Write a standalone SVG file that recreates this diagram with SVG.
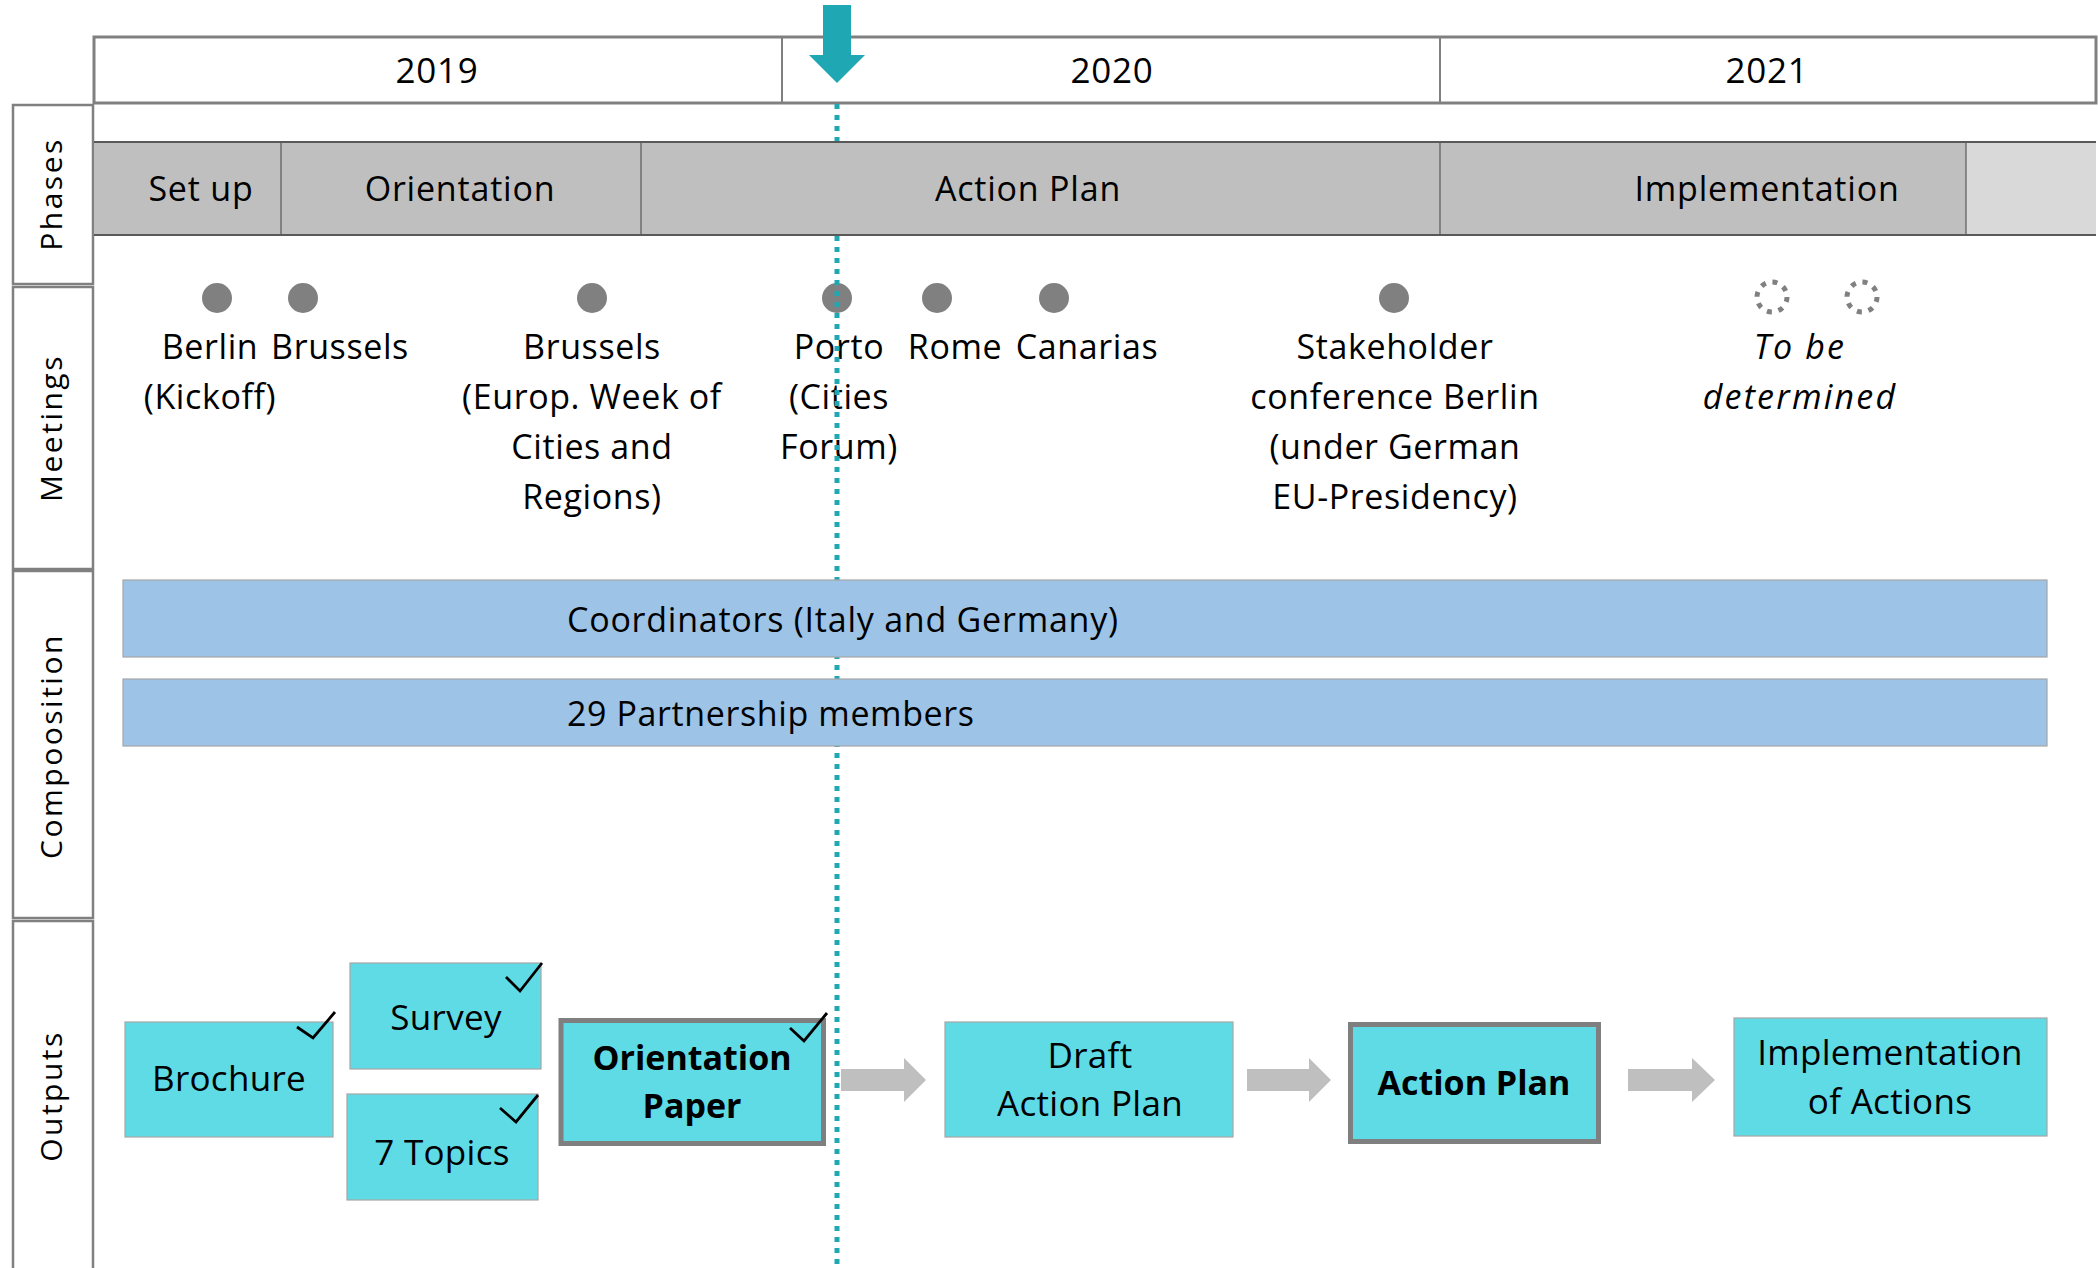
<svg xmlns="http://www.w3.org/2000/svg" width="2098" height="1268" viewBox="0 0 2098 1268">
<defs>
<style>
text{font-family:"Open Sans","Noto Sans","DejaVu Sans",sans-serif;fill:#000;}
.yr{font-size:35px;text-anchor:middle;letter-spacing:0.8px;}
.ph{font-size:34px;text-anchor:middle;letter-spacing:0.8px;}
.mt{font-size:34px;text-anchor:middle;letter-spacing:0.6px;}
.it{font-style:italic;letter-spacing:2.2px;}
.lbl{font-size:30px;text-anchor:middle;letter-spacing:2.5px;}
.cmp{font-size:34px;}
.out{font-size:35px;text-anchor:middle;letter-spacing:0.3px;}
.outb{font-size:34px;text-anchor:middle;font-weight:bold;}
.lbox{fill:#fff;stroke:#808080;stroke-width:2.5;}
.dot{fill:#808080;}
.tbd{fill:none;stroke:#808080;stroke-width:5;stroke-dasharray:5 6.78;}
.bar{fill:#9dc3e6;stroke:#a6a6a6;stroke-width:1.2;}
.cy{fill:#5fdbe5;stroke:#a6a6a6;stroke-width:1.2;}
.cyk{fill:#5fdbe5;stroke:#7f7f7f;stroke-width:5;}
.chk{fill:none;stroke:#000;stroke-width:2.8;stroke-linejoin:miter;}
.garr{fill:#bfbfbf;}
.div{stroke:#595959;stroke-width:1.2;}
</style>
</defs>

<!-- Year header -->
<g id="years">
<rect x="94" y="37" width="2002" height="66" fill="#fff" stroke="#808080" stroke-width="3"/>
<line x1="782" y1="37" x2="782" y2="103" stroke="#808080" stroke-width="2"/>
<line x1="1440" y1="37" x2="1440" y2="103" stroke="#808080" stroke-width="2"/>
<text class="yr" x="437" y="83">2019</text>
<text class="yr" x="1112" y="83">2020</text>
<text class="yr" x="1767" y="83">2021</text>
</g>

<!-- Row labels -->
<g id="row-labels">
<rect class="lbox" x="13" y="105" width="80" height="179"/>
<rect class="lbox" x="13" y="287" width="80" height="282"/>
<rect class="lbox" x="13" y="571" width="80" height="347"/>
<rect class="lbox" x="13" y="921" width="80" height="352"/>
<text class="lbl" transform="translate(62,194) rotate(-90)">Phases</text>
<text class="lbl" transform="translate(62,428) rotate(-90)" letter-spacing="3.2">Meetings</text>
<text class="lbl" transform="translate(62,746) rotate(-90)">Compoosition</text>
<text class="lbl" transform="translate(62,1096) rotate(-90)">Outputs</text>
</g>

<!-- Meetings -->
<g id="meetings">
<circle class="dot" cx="217" cy="298" r="15"/>
<circle class="dot" cx="303" cy="298" r="15"/>
<circle class="dot" cx="592" cy="298" r="15"/>
<circle class="dot" cx="837" cy="298" r="15"/>
<circle class="dot" cx="937" cy="298" r="15"/>
<circle class="dot" cx="1054" cy="298" r="15"/>
<circle class="dot" cx="1394" cy="298" r="15"/>
<circle class="tbd" cx="1772" cy="297" r="15"/>
<circle class="tbd" cx="1862" cy="297" r="15"/>
<g id="m-berlin"><text class="mt" x="210" y="359">Berlin</text><text class="mt" x="210" y="409">(Kickoff)</text></g>
<g id="m-brussels1"><text class="mt" x="340" y="359">Brussels</text></g>
<g id="m-brussels2"><text class="mt" x="592" y="359">Brussels</text><text class="mt" x="592" y="409">(Europ. Week of</text><text class="mt" x="592" y="459">Cities and</text><text class="mt" x="592" y="509">Regions)</text></g>
<g id="m-porto"><text class="mt" x="839" y="359">Porto</text><text class="mt" x="839" y="409">(Cities</text><text class="mt" x="839" y="459">Forum)</text></g>
<g id="m-rome"><text class="mt" x="955" y="359">Rome</text></g>
<g id="m-canarias"><text class="mt" x="1087" y="359">Canarias</text></g>
<g id="m-stakeholder"><text class="mt" x="1395" y="359">Stakeholder</text><text class="mt" x="1395" y="409">conference Berlin</text><text class="mt" x="1395" y="459">(under German</text><text class="mt" x="1395" y="509">EU-Presidency)</text></g>
<g id="m-tbd"><text class="mt it" x="1800" y="359">To be</text><text class="mt it" x="1800" y="409">determined</text></g>
</g>

<!-- Today line -->
<g id="today-line">
<line x1="837" y1="104" x2="837" y2="1268" stroke="#1fa8b3" stroke-width="5" stroke-dasharray="5 6"/>
</g>

<!-- Phases bar -->
<g id="phases">
<rect x="94" y="142" width="1872" height="93" fill="#bfbfbf"/>
<rect x="1966" y="142" width="130" height="93" fill="#d9d9d9"/>
<line x1="94" y1="142" x2="2096" y2="142" stroke="#595959" stroke-width="2"/>
<line x1="94" y1="235" x2="2096" y2="235" stroke="#595959" stroke-width="2"/>
<line class="div" x1="281" y1="142" x2="281" y2="235"/>
<line class="div" x1="641" y1="142" x2="641" y2="235"/>
<line class="div" x1="1440" y1="142" x2="1440" y2="235"/>
<line class="div" x1="1966" y1="142" x2="1966" y2="235"/>
<text class="ph" x="201" y="201">Set up</text>
<text class="ph" x="460" y="201">Orientation</text>
<text class="ph" x="1028" y="201">Action Plan</text>
<text class="ph" x="1767" y="201">Implementation</text>
</g>

<!-- Composition -->
<g id="comp-coordinators">
<rect class="bar" x="123" y="580" width="1924" height="77"/>
<text class="cmp" x="567" y="632" textLength="551" lengthAdjust="spacing">Coordinators (Italy and Germany)</text>
</g>
<g id="comp-members">
<rect class="bar" x="123" y="679" width="1924" height="67"/>
<text class="cmp" x="567" y="726" textLength="407" lengthAdjust="spacing">29 Partnership members</text>
</g>

<!-- Today arrow -->
<g id="today-arrow">
<polygon points="823,5 851,5 851,55 865,55 837,83 809,55 823,55" fill="#1fa8b3"/>
</g>

<!-- Outputs -->
<g id="out-brochure">
<rect class="cy" x="125" y="1022" width="208" height="115"/>
<text class="out" x="229" y="1091">Brochure</text>
<polyline class="chk" points="297,1027 313,1038 335,1012"/>
</g>
<g id="out-survey">
<rect class="cy" x="350" y="963" width="191" height="106"/>
<text class="out" x="446" y="1030">Survey</text>
<polyline class="chk" points="506,977 520,991 542,963"/>
</g>
<g id="out-topics">
<rect class="cy" x="347" y="1094" width="191" height="106"/>
<text class="out" x="442" y="1165">7 Topics</text>
<polyline class="chk" points="500,1108 516,1122 538,1095"/>
</g>
<g id="out-orientation">
<rect class="cyk" x="561" y="1020.5" width="262.5" height="123"/>
<text class="outb" x="692" y="1070">Orientation</text>
<text class="outb" x="692" y="1118">Paper</text>
<polyline class="chk" points="790,1028 804,1041 827,1013"/>
</g>
<g id="out-draft">
<rect class="cy" x="945" y="1022" width="288" height="115"/>
<text class="out" x="1090" y="1068">Draft</text>
<text class="out" x="1090" y="1116">Action Plan</text>
</g>
<g id="out-actionplan">
<rect class="cyk" x="1350.5" y="1024.5" width="248" height="117"/>
<text class="outb" x="1474" y="1095">Action Plan</text>
</g>
<g id="out-implementation">
<rect class="cy" x="1734" y="1018" width="313" height="118"/>
<text class="out" x="1890" y="1065">Implementation</text>
<text class="out" x="1890" y="1114">of Actions</text>
</g>

<!-- Connectors -->
<g id="connectors">
<polygon class="garr" points="841,1069 904,1069 904,1058 926,1080 904,1102 904,1091 841,1091"/>
<polygon class="garr" points="1247,1069 1309,1069 1309,1058 1331,1080 1309,1102 1309,1091 1247,1091"/>
<polygon class="garr" points="1628,1069 1692,1069 1692,1058 1715,1080 1692,1102 1692,1091 1628,1091"/>
</g>
</svg>
